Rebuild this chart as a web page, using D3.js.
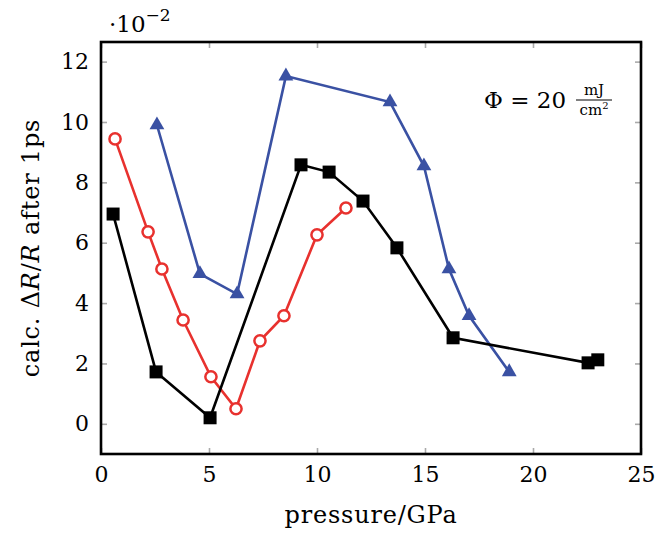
<!DOCTYPE html>
<html>
<head>
<meta charset="utf-8">
<script src="https://cdn.jsdelivr.net/npm/d3@7"></script>
<style>
  body { margin: 0; background: #fff; }
  text { font-family: "DejaVu Serif", serif; fill: #000; }
</style>
</head>
<body>
<svg id="chart" width="656" height="537"></svg>
<script>
// values are in units of 1e-2
const blackX = [0.56, 2.55, 5.05, 9.26, 10.56, 12.13, 13.7, 16.3, 22.55, 23.0]
const blackY = [6.95, 1.72, 0.2, 8.58, 8.34, 7.38, 5.83, 2.85, 2.02, 2.12]

const redX = [0.65, 2.18, 2.82, 3.8, 5.09, 6.25, 7.36, 8.47, 10.0, 11.34]
const redY = [9.44, 6.36, 5.13, 3.44, 1.56, 0.5, 2.75, 3.58, 6.26, 7.15]

const blueX = [2.59, 4.58, 6.3, 8.56, 13.38, 14.95, 16.11, 17.04, 18.9]
const blueY = [9.9, 4.97, 4.3, 11.52, 10.66, 8.54, 5.13, 3.58, 1.72]

const xTicks = [0, 5, 10, 15, 20, 25]
const yTicks = [0, 2, 4, 6, 8, 10, 12]

const margin = {left: 101, right: 15, top: 42, bottom: 83}
const W = 656, H = 537
const font = '"DejaVu Serif", serif'

const svg = d3.select('#chart')

const x = d3.scaleLinear().domain([0, 25]).range([margin.left, W - margin.right])
const y = d3.scaleLinear().domain([-1, 12.65]).range([H - margin.bottom, margin.top])

const tickLen = 6
const tickColor = '#aaa'

// inward ticks on all four sides
const axes = [
  d3.axisBottom(x).tickValues(xTicks).tickSizeInner(-tickLen).tickSizeOuter(0).tickPadding(12),
  d3.axisTop(x).tickValues(xTicks).tickSizeInner(-tickLen).tickSizeOuter(0).tickFormat(''),
  d3.axisLeft(y).tickValues(yTicks).tickSizeInner(-tickLen).tickSizeOuter(0).tickPadding(12),
  d3.axisRight(y).tickValues(yTicks).tickSizeInner(-tickLen).tickSizeOuter(0).tickFormat('')
]
const pos = [
  `translate(0,${y(-1)})`, `translate(0,${y(12.65)})`,
  `translate(${x(0)},0)`, `translate(${x(25)},0)`
]
axes.forEach((ax, i) => {
  const g = svg.append('g').attr('transform', pos[i]).call(ax)
    .attr('font-family', font).attr('font-size', 22)
  g.select('.domain').remove()
  g.selectAll('.tick line').attr('stroke', tickColor).attr('stroke-width', 1.6)
})

function series(xs, ys) {
  return xs.map((v, i) => ({x: v, y: ys[i]}))
}

const line = d3.line().x(d => x(d.x)).y(d => y(d.y))

const plot = svg.append('g')

const blue = '#3a51a3', red = '#e8312e'

// blue triangles
const blueData = series(blueX, blueY)
plot.append('path').datum(blueData).attr('d', line)
  .attr('fill', 'none').attr('stroke', blue).attr('stroke-width', 2.6)
plot.selectAll('path.tri').data(blueData).enter().append('path')
  .attr('class', 'tri')
  .attr('d', d3.symbol().type(d3.symbolTriangle).size(95))
  .attr('transform', d => `translate(${x(d.x)},${y(d.y)})`)
  .attr('fill', blue)

// red circles
const redData = series(redX, redY)
plot.append('path').datum(redData).attr('d', line)
  .attr('fill', 'none').attr('stroke', red).attr('stroke-width', 2.6)
plot.selectAll('circle').data(redData).enter().append('circle')
  .attr('cx', d => x(d.x)).attr('cy', d => y(d.y)).attr('r', 5.6)
  .attr('fill', '#fff').attr('stroke', red).attr('stroke-width', 2.5)

// black squares
const blackData = series(blackX, blackY)
plot.append('path').datum(blackData).attr('d', line)
  .attr('fill', 'none').attr('stroke', '#000').attr('stroke-width', 2.6)
plot.selectAll('rect').data(blackData).enter().append('rect')
  .attr('x', d => x(d.x) - 6.5).attr('y', d => y(d.y) - 6.5)
  .attr('width', 13).attr('height', 13).attr('fill', '#000')

// frame
svg.append('rect')
  .attr('x', x(0)).attr('y', y(12.65))
  .attr('width', x(25) - x(0)).attr('height', y(-1) - y(12.65))
  .attr('fill', 'none').attr('stroke', '#000').attr('stroke-width', 2.6)

// scale factor
const sf = svg.append('text').attr('x', 109).attr('y', 32).style('font-size', '23px')
sf.append('tspan').text('·10')
sf.append('tspan').attr('dy', -11).style('font-size', '17px').text('−2')

// x label
svg.append('text').attr('x', (x(0) + x(25)) / 2).attr('y', 523)
  .attr('text-anchor', 'middle').style('font-size', '24px').style('letter-spacing', '0.8px')
  .text('pressure/GPa')

// y label
const yl = svg.append('text')
  .attr('transform', `translate(39,${(y(-1) + y(12.65)) / 2}) rotate(-90)`)
  .attr('text-anchor', 'middle').style('font-size', '24px').style('letter-spacing', '0.8px')
yl.append('tspan').text('calc. Δ')
yl.append('tspan').style('font-style', 'italic').text('R')
yl.append('tspan').text('/')
yl.append('tspan').style('font-style', 'italic').text('R')
yl.append('tspan').text(' after 1ps')

// fluence annotation
const ann = svg.append('g')
ann.append('text').attr('x', 484).attr('y', 108).style('font-size', '23px').text('Φ = 20')
ann.append('text').attr('x', 594).attr('y', 95).attr('text-anchor', 'middle')
  .style('font-size', '15px').text('mJ')
ann.append('line').attr('x1', 576).attr('x2', 612).attr('y1', 100).attr('y2', 100)
  .attr('stroke', '#000').attr('stroke-width', 1)
const den = ann.append('text').attr('x', 594).attr('y', 115).attr('text-anchor', 'middle')
  .style('font-size', '15px')
den.append('tspan').text('cm')
den.append('tspan').attr('dy', -6).style('font-size', '10px').text('2')
</script>
</body>
</html>
